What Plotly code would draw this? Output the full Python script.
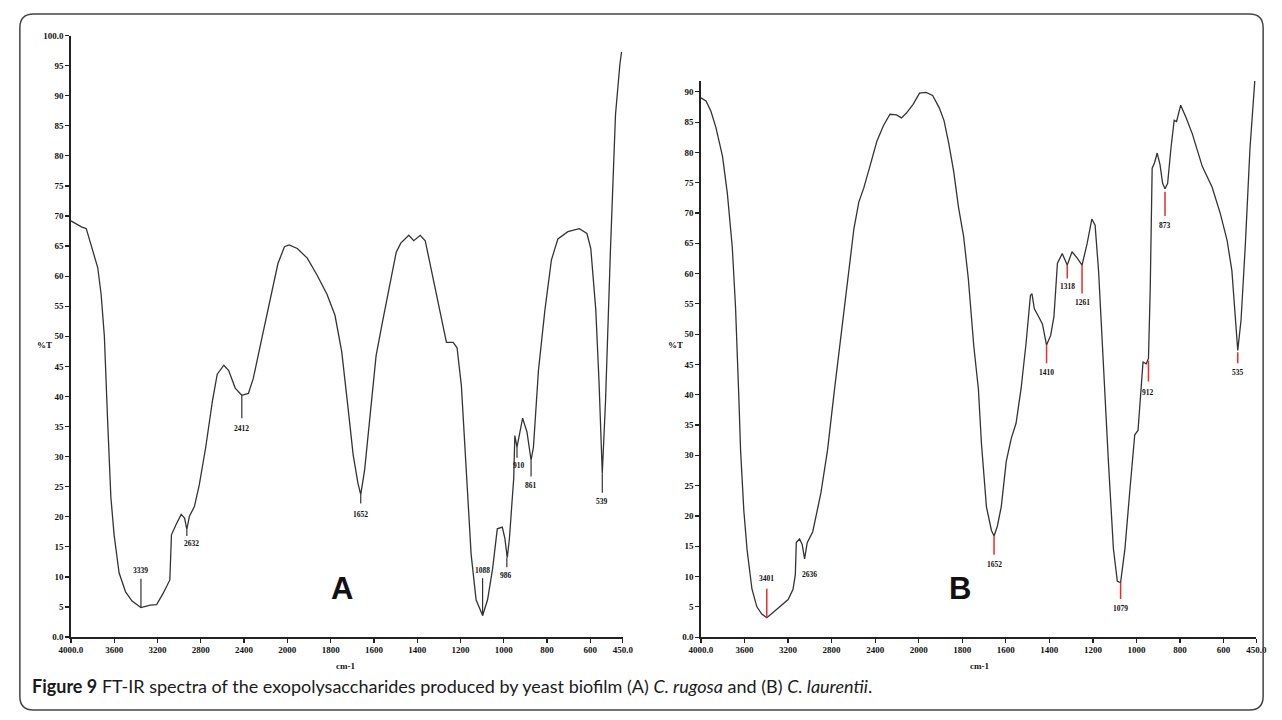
import plotly.graph_objects as go

W, H = 1282, 720

# ---------------- data ----------------
wn_A = [4000, 3903, 3858, 3812, 3752, 3721, 3691, 3661, 3631, 3601, 3555, 3495, 3435, 3353,
        3268, 3208, 3147, 3086, 3071, 3026, 2981, 2950, 2929, 2905, 2859, 2814, 2754, 2693,
        2648, 2587, 2542, 2482, 2421, 2360, 2315, 2239, 2163, 2087, 2027, 1992, 1954, 1908,
        1863, 1817, 1780, 1749, 1719, 1696, 1674, 1661, 1643, 1620, 1590, 1560, 1530, 1497,
        1476, 1439, 1416, 1386, 1363, 1333, 1295, 1265, 1234, 1216, 1196, 1174, 1151, 1128,
        1098, 1075, 1052, 1030, 1007, 995, 984, 974, 961, 954, 949, 939, 913, 893, 874, 863,
        840, 810, 780, 750, 704, 651, 616, 598, 575, 560, 545, 530, 507, 484, 464, 456]
t_A = [69.2, 68.2, 67.9, 65.2, 61.4, 57.0, 50.0, 36.0, 23.3, 17.0, 10.7, 7.5, 6.0, 4.9,
       5.3, 5.4, 7.3, 9.5, 17.0, 18.8, 20.4, 19.8, 17.9, 20.1, 21.7, 25.3, 31.6, 39.2,
       43.7, 45.2, 44.3, 41.4, 40.2, 40.5, 43.0, 49.4, 55.7, 62.1, 64.9, 65.2, 64.6, 63.0,
       60.2, 57.0, 53.5, 47.5, 37.9, 30.3, 25.6, 23.7, 27.8, 36.0, 46.8, 52.5, 58.2, 64.0,
       65.5, 66.8, 65.9, 66.8, 65.9, 60.8, 54.4, 49.0, 49.0, 48.1, 41.8, 27.8, 13.8, 6.2,
       3.6, 6.2, 11.3, 18.0, 18.3, 16.4, 13.2, 16.4, 23.3, 26.5, 33.5, 31.6, 36.4, 34.1, 29.4, 31.6,
       44.3, 54.4, 62.7, 66.2, 67.4, 67.9, 67.1, 64.6, 54.4, 42.4, 27.2, 39.2, 64.6, 86.8, 95.1, 97.3]

wn_B = [4000, 3953, 3908, 3862, 3802, 3757, 3712, 3682, 3652, 3636, 3606, 3576, 3531, 3486,
        3441, 3395, 3335, 3274, 3199, 3154, 3133, 3124, 3094, 3070, 3048, 3024, 2973, 2898,
        2837, 2777, 2717, 2656, 2595, 2550, 2505, 2445, 2385, 2324, 2264, 2204, 2158, 2113,
        2053, 1996, 1966, 1936, 1906, 1884, 1862, 1839, 1817, 1794, 1772, 1747, 1726, 1712,
        1689, 1666, 1654, 1639, 1621, 1598, 1575, 1553, 1530, 1507, 1487, 1480, 1469, 1454,
        1432, 1413, 1394, 1379, 1363, 1341, 1326, 1318, 1296, 1273, 1250, 1227, 1205, 1190,
        1174, 1152, 1129, 1106, 1088, 1073, 1053, 1031, 1008, 993, 978, 970, 955, 945, 937,
        928, 917, 905, 892, 880, 869, 857, 842, 827, 816, 797, 774, 744, 698, 653, 615, 584,
        562, 547, 535, 520, 500, 479, 456]
t_B = [89.0, 88.5, 86.8, 84.1, 79.4, 73.2, 64.4, 54.4, 39.7, 30.9, 20.9, 14.4, 7.9, 5.0,
       3.8, 3.2, 4.1, 5.0, 6.2, 7.9, 10.3, 15.6, 16.2, 15.3, 12.9, 15.6, 17.4, 23.8,
       30.9, 40.3, 49.1, 57.9, 67.4, 71.8, 74.1, 77.9, 81.8, 84.4, 86.3, 86.2, 85.7, 86.5,
       87.9, 89.8, 89.9, 89.4, 87.4, 85.3, 81.5, 76.8, 70.9, 66.2, 59.1, 48.0, 41.0, 32.0,
       21.5, 17.6, 16.7, 18.3, 21.5, 29.0, 32.8, 35.3, 41.0, 48.5, 56.4, 56.7, 54.2, 53.2,
       51.7, 48.2, 49.8, 52.9, 61.7, 63.3, 62.0, 61.4, 63.6, 62.6, 61.4, 64.9, 69.0, 68.0,
       60.4, 44.7, 29.0, 14.6, 9.2, 9.0, 14.6, 24.0, 33.4, 34.1, 41.0, 45.4, 45.1, 46.0, 57.3,
       77.4, 78.3, 79.9, 78.0, 74.9, 74.0, 74.9, 80.6, 85.3, 85.1, 87.8, 85.9, 83.1, 77.7, 74.3, 69.9, 65.5,
       60.5, 53.5, 47.3, 52.3, 64.9, 80.6, 92.2]

x_tick_wn = [4000, 3600, 3200, 2800, 2400, 2000, 1800, 1600, 1400, 1200, 1000, 800, 600, 450]
x_tick_text = ["4000.0", "3600", "3200", "2800", "2400", "2000", "1800", "1600", "1400",
               "1200", "1000", "800", "600", "450.0"]
yA_ticks = list(range(0, 101, 5))
yA_text = ["0.0"] + [str(v) for v in range(5, 100, 5)] + ["100.0"]
yB_ticks = list(range(0, 91, 5))
yB_text = ["0.0"] + [str(v) for v in range(5, 91, 5)]

# peak markers: label, wavenumber, line start %T, line end %T, label %T
peak_A_label = ["3339", "2632", "2412", "1652", "1088", "986", "910", "861", "539"]
peak_A_wn = [3353, 2929, 2421, 1661, 1098, 986, 939, 874, 545]
peak_A_from = [4.9, 17.9, 40.2, 23.7, 3.6, 13.2, 31.6, 29.4, 27.2]
peak_A_to = [9.7, 16.8, 36.4, 22.2, 9.8, 11.6, 29.8, 26.7, 24.0]
peak_A_text_t = [11.0, 15.6, 34.6, 20.3, 11.0, 10.2, 28.6, 25.2, 22.6]
peak_A_text_wn = [3358, 2890, 2421, 1661, 1098, 989, 931, 874, 545]

peak_B_label = ["3401", "2636", "1652", "1410", "1318", "1261", "1079", "912", "873", "535"]
peak_B_wn = [3395, 3003, 1654, 1413, 1318, 1250, 1073, 945, 869, 535]
peak_B_from = [3.2, None, 16.7, 48.2, 61.4, 61.4, 9.0, 45.6, 73.5, 47.0]
peak_B_to = [8.0, None, 13.6, 45.2, 59.2, 56.7, 6.3, 42.2, 69.5, 45.2]
peak_B_text_t = [9.6, 10.3, 12.0, 43.6, 57.8, 55.2, 4.8, 40.4, 67.9, 43.6]


def u(w):
    """FT-IR abscissa: half-scale above 2000 cm-1."""
    return (4000 - w) / 400 if w >= 2000 else 5 + (2000 - w) / 200


def fx(px):
    return px / W


def fy(py):
    return 1 - py / H


fig = go.Figure()
curve_col = "#333333"
fig.add_trace(go.Scatter(x=[u(w) for w in wn_A], y=t_A, mode="lines",
                         line=dict(color=curve_col, width=1.3), xaxis="x", yaxis="y",
                         hoverinfo="skip"))
fig.add_trace(go.Scatter(x=[u(w) for w in wn_B], y=t_B, mode="lines",
                         line=dict(color=curve_col, width=1.3), xaxis="x2", yaxis="y2",
                         hoverinfo="skip"))

# marker lines
mx, my = [], []
for w, a, b in zip(peak_A_wn, peak_A_from, peak_A_to):
    mx += [u(w), u(w), None]
    my += [a, b, None]
fig.add_trace(go.Scatter(x=mx, y=my, mode="lines", line=dict(color="#333", width=1.2),
                         xaxis="x", yaxis="y", hoverinfo="skip"))
mx, my = [], []
for w, a, b in zip(peak_B_wn, peak_B_from, peak_B_to):
    if a is None:
        continue
    mx += [u(w), u(w), None]
    my += [a, b, None]
fig.add_trace(go.Scatter(x=mx, y=my, mode="lines", line=dict(color="#ee2b2b", width=1.5),
                         xaxis="x2", yaxis="y2", hoverinfo="skip"))

serif = "Liberation Serif, DejaVu Serif, serif"
small_font = dict(family=serif, size=7.5, color="#111")
tick_font = dict(family=serif, size=9, color="#111")

ann = []
for lab, w, t in zip(peak_A_label, peak_A_text_wn, peak_A_text_t):
    ann.append(dict(x=u(w), y=t, xref="x", yref="y", text="<b>%s</b>" % lab, showarrow=False,
                    font=small_font, xanchor="center", yanchor="middle"))
for lab, w, t in zip(peak_B_label, peak_B_wn, peak_B_text_t):
    ann.append(dict(x=u(w), y=t, xref="x2", yref="y2", text="<b>%s</b>" % lab, showarrow=False,
                    font=small_font, xanchor="center", yanchor="middle"))

label_font = dict(family=serif, size=9, color="#111")
for txt, px, py in [("%T", 33, 345), ("%T", 676, 345), ("cm-1", 340, 670), ("cm-1", 985, 670)]:
    ann.append(dict(x=fx(px), y=fy(py), xref="paper", yref="paper", text="<b>%s</b>" % txt,
                    showarrow=False, font=label_font, xanchor="center", yanchor="middle"))
for txt, px, py in [("A", 336, 592), ("B", 965, 592)]:
    ann.append(dict(x=fx(px), y=fy(py), xref="paper", yref="paper", text="<b>%s</b>" % txt,
                    showarrow=False, xanchor="center", yanchor="middle",
                    font=dict(family="Liberation Sans, Arial, sans-serif", size=31, color="#111")))
ann.append(dict(x=fx(18), y=fy(691), xref="paper", yref="paper", xanchor="left", yanchor="middle",
                showarrow=False,
                text="<b>Figure 9</b> FT-IR spectra of the exopolysaccharides produced by yeast biofilm "
                     "(A) <i>C. rugosa</i> and (B) <i>C. laurentii</i>.",
                font=dict(family="Lato, Open Sans, sans-serif", size=18, color="#1a1a1a")))

# rounded frame
x0, x1, y0, y1, r = 8, 1274, 9, 715, 14
rx, ry = r / W, r / H
X0, X1, Y0, Y1 = fx(x0), fx(x1), fy(y0), fy(y1)
path = (f"M {X0+rx},{Y0} L {X1-rx},{Y0} Q {X1},{Y0} {X1},{Y0-ry} L {X1},{Y1+ry} "
        f"Q {X1},{Y1} {X1-rx},{Y1} L {X0+rx},{Y1} Q {X0},{Y1} {X0},{Y1+ry} "
        f"L {X0},{Y0-ry} Q {X0},{Y0} {X0+rx},{Y0} Z")
shapes = [dict(type="path", path=path, xref="paper", yref="paper",
               line=dict(color="#444", width=1.5))]

xcommon = dict(range=[0, 12.75], tickvals=[u(w) for w in x_tick_wn],
               ticktext=["<b>%s</b>" % t for t in x_tick_text],
               showline=True, linecolor="#222", linewidth=1.5, ticks="outside", ticklen=4,
               tickwidth=1.2, tickcolor="#222", showgrid=False, zeroline=False,
               tickfont=tick_font, fixedrange=True)
ycommon = dict(showline=True, linecolor="#222", linewidth=1.5, ticks="outside", ticklen=4,
               tickwidth=1.2, tickcolor="#222", showgrid=False, zeroline=False,
               tickfont=tick_font, fixedrange=True)

fig.update_layout(
    width=W, height=H, margin=dict(l=0, r=0, t=0, b=0),
    paper_bgcolor="white", plot_bgcolor="white", showlegend=False,
    xaxis=dict(domain=[fx(60), fx(622)], anchor="y", **xcommon),
    yaxis=dict(domain=[fy(641), fy(31)], range=[0, 100], anchor="x",
               tickvals=yA_ticks, ticktext=["<b>%s</b>" % t for t in yA_text], **ycommon),
    xaxis2=dict(domain=[fx(701.5), fx(1267)], anchor="y2", **xcommon),
    yaxis2=dict(domain=[fy(641), fy(77)], range=[0, 91.8], anchor="x2",
                tickvals=yB_ticks, ticktext=["<b>%s</b>" % t for t in yB_text], **ycommon),
    annotations=ann, shapes=shapes,
)

fig.write_html("out.html", config={"displayModeBar": False, "staticPlot": True},
               post_script="document.body.style.margin='0px';document.body.style.overflow='hidden';")
